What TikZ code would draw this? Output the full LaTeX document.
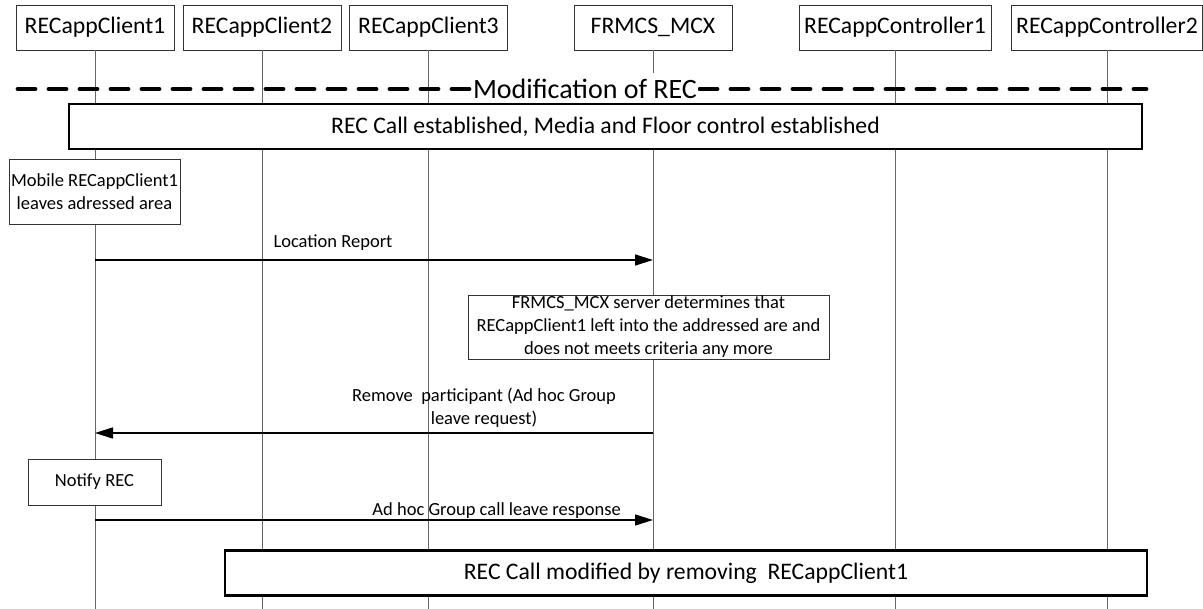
\documentclass[tikz,border=0pt]{standalone}
\usepackage{fontspec}
\setmainfont{Carlito}
\usetikzlibrary{arrows.meta}
\tikzset{
  entity/.style={draw=black!80, line width=0.8pt, fill=white, minimum height=45pt, inner sep=0pt, font=\fontsize{23.7}{28}\selectfont},
  lifeline/.style={draw=black!60, line width=0.9pt},
  phase/.style={draw, line width=2.2pt, fill=white, minimum height=45pt, inner sep=0pt, font=\fontsize{23.7}{28}\selectfont},
  action/.style={draw=black!80, line width=0.8pt, fill=white, inner sep=0pt, align=center, font=\fontsize{18.5}{23}\selectfont},
  msg/.style={line width=1.5pt, -{Triangle[length=18pt,width=11pt]}},
  msglabel/.style={inner sep=0pt, align=center, font=\fontsize{18.5}{23}\selectfont}
}
\begin{document}
\begin{tikzpicture}[x=1pt, y=-1pt]
  \useasboundingbox (0,0) rectangle (1203,609);
  % participants
  \node[entity, minimum width=158pt] (c1) at (95,27.5) {RECappClient1};
  \node[entity, minimum width=158pt] (c2) at (262,27.5) {RECappClient2};
  \node[entity, minimum width=158pt] (c3) at (428.5,27.5) {RECappClient3};
  \node[entity, minimum width=158pt] (mcx) at (653,27.5) {FRMCS\_MCX};
  \node[entity, minimum width=192pt] (ctl1) at (895,27.5) {RECappController1};
  \node[entity, minimum width=191pt] (ctl2) at (1107,27.5) {RECappController2};
  \foreach \p in {c1,c2,c3,mcx,ctl1,ctl2}
    \draw[lifeline] (\p.south) -- (\p.south |- 0,609);
  % phase
  \coordinate (dl) at (18,89);
  \coordinate (dr) at (1146,89);
  \draw[line width=4.8pt, line cap=round, dash pattern=on 17pt off 14pt] (dl) -- (dr);
  \node[fill=white, inner xsep=1pt, minimum height=32pt, font=\fontsize{28}{32}\selectfont] (mod) at (585,89) {Modification of REC};
  \node[phase, minimum width=1073pt] (est) at (605.5,126.5) {REC Call established, Media and Floor control established};
  % messages
  \node[action, minimum width=171pt, minimum height=65pt] (leave) at (94.5,191.5) {Mobile RECappClient1\\leaves adressed area};
  \draw[msg] (c1 |- 0,260) -- (mcx |- 0,260);
  \node[msglabel] (lrlab) at (333,243) {Location Report};
  \node[action, minimum width=361pt, minimum height=64pt] (check) at (648.5,327) {FRMCS\_MCX server determines that\\RECappClient1 left into the addressed are and\\does not meets criteria any more};
  \draw[msg] (mcx |- 0,433) -- (c1 |- 0,433);
  \node[msglabel] (rmlab) at (484,407.5) {Remove\ \ participant (Ad hoc Group\\leave request)};
  \node[action, minimum width=133pt, minimum height=46pt] (notify) at (94.5,482) {Notify REC};
  \draw[msg] (c1 |- 0,520) -- (mcx |- 0,520);
  \node[msglabel, anchor=base east] (rsplab) at (621,516) {Ad hoc Group call leave response};
  \node[phase, minimum width=922pt] (mod2) at (686,573) {REC Call modified by removing\ \ RECappClient1};
\end{tikzpicture}
\end{document}
